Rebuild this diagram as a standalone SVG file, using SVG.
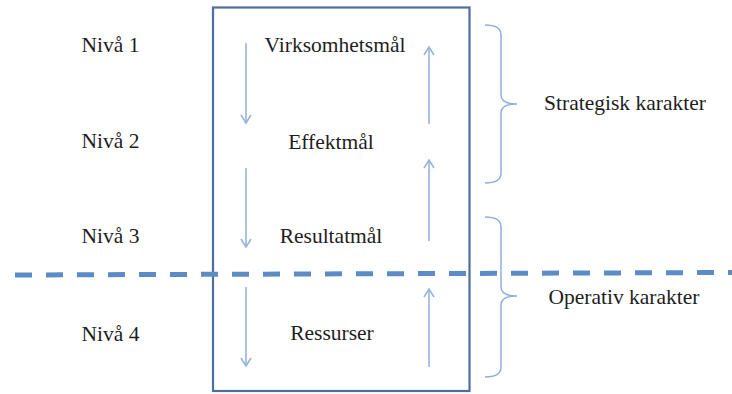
<svg xmlns="http://www.w3.org/2000/svg" width="732" height="394" viewBox="0 0 732 394">
<defs>
<style>
.t{font-family:"Liberation Serif","Times New Roman",serif;font-size:21.5px;fill:#1e1e1e;text-anchor:middle}
.arr{stroke:#96b5dc;stroke-width:1.6;fill:none}
.br{stroke:#8fb0da;stroke-width:1.5;fill:none}
</style>
<marker id="ah" markerWidth="12" markerHeight="12" viewBox="0 0 12 12" refX="10" refY="6" orient="auto" markerUnits="userSpaceOnUse">
<path d="M2,1 L10,6 L2,11" fill="none" stroke="#96b5dc" stroke-width="1.6"/>
</marker>
</defs>
<rect width="732" height="394" fill="#fff"/>
<g id="box"><rect x="213" y="7.5" width="256.5" height="383.5" fill="none" stroke="#4d6f9f" stroke-width="2.2"/></g>
<g id="levels">
<text class="t" x="110.5" y="52">Nivå 1</text>
<text class="t" x="110.5" y="148">Nivå 2</text>
<text class="t" x="110.5" y="243">Nivå 3</text>
<text class="t" x="110.5" y="341">Nivå 4</text>
</g>
<g id="n1"><text class="t" x="335" y="52">Virksomhetsmål</text></g>
<g id="n2"><text class="t" x="331" y="149">Effektmål</text></g>
<g id="n3"><text class="t" x="331" y="243">Resultatmål</text></g>
<g id="n4"><text class="t" x="332" y="340">Ressurser</text></g>
<g id="strat">
<path class="br" d="M485,25 Q501,25 501,35 L501,95 Q501,104 517,104 Q501,104 501,113 L501,173 Q501,183 485,183"/>
<text class="t" x="625" y="110">Strategisk karakter</text>
</g>
<g id="oper">
<path class="br" d="M485,217 Q501,217 501,227 L501,287 Q501,296 517,296 Q501,296 501,305 L501,367 Q501,377 485,377"/>
<text class="t" x="624" y="304">Operativ karakter</text>
</g>
<g id="connectors">
<line class="arr" x1="246" y1="43" x2="246" y2="123" marker-end="url(#ah)"/>
<line class="arr" x1="246" y1="168" x2="246" y2="247" marker-end="url(#ah)"/>
<line class="arr" x1="246" y1="287" x2="246" y2="366" marker-end="url(#ah)"/>
<line class="arr" x1="429" y1="124" x2="429" y2="47" marker-end="url(#ah)"/>
<line class="arr" x1="429" y1="241" x2="429" y2="160" marker-end="url(#ah)"/>
<line class="arr" x1="429" y1="367" x2="429" y2="289" marker-end="url(#ah)"/>
</g>
<g id="divider"><line x1="15" y1="275" x2="732" y2="272.5" stroke="#5b8cc6" stroke-width="5" stroke-dasharray="17 14"/></g>
</svg>
